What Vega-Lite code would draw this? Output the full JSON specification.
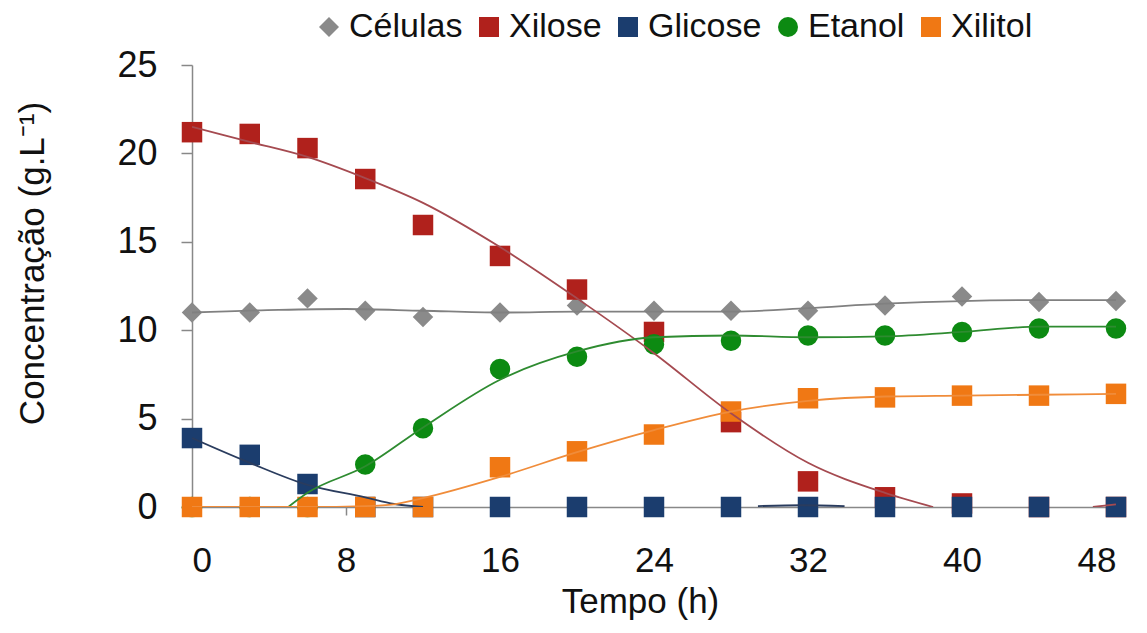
{
  "$schema": "https://vega.github.io/schema/vega-lite/v6.json",
  "width": 924,
  "height": 442,
  "autosize": {"type": "none"},
  "padding": {"left": 192, "top": 65, "right": 31, "bottom": 126},
  "background": "white",
  "datasets": {
    "pontos": [
      {"serie": "Células", "t": 0, "v": 11.0},
      {"serie": "Células", "t": 3, "v": 11.0},
      {"serie": "Células", "t": 6, "v": 11.8},
      {"serie": "Células", "t": 9, "v": 11.1},
      {"serie": "Células", "t": 12, "v": 10.75},
      {"serie": "Células", "t": 16, "v": 11.0},
      {"serie": "Células", "t": 20, "v": 11.4},
      {"serie": "Células", "t": 24, "v": 11.1},
      {"serie": "Células", "t": 28, "v": 11.1},
      {"serie": "Células", "t": 32, "v": 11.1},
      {"serie": "Células", "t": 36, "v": 11.4},
      {"serie": "Células", "t": 40, "v": 11.9},
      {"serie": "Células", "t": 44, "v": 11.6},
      {"serie": "Células", "t": 48, "v": 11.65},
      {"serie": "Xilose", "t": 0, "v": 21.2},
      {"serie": "Xilose", "t": 3, "v": 21.1},
      {"serie": "Xilose", "t": 6, "v": 20.3},
      {"serie": "Xilose", "t": 9, "v": 18.55},
      {"serie": "Xilose", "t": 12, "v": 15.95},
      {"serie": "Xilose", "t": 16, "v": 14.2},
      {"serie": "Xilose", "t": 20, "v": 12.3},
      {"serie": "Xilose", "t": 24, "v": 9.9},
      {"serie": "Xilose", "t": 28, "v": 4.8},
      {"serie": "Xilose", "t": 32, "v": 1.45},
      {"serie": "Xilose", "t": 36, "v": 0.55},
      {"serie": "Xilose", "t": 40, "v": 0.2},
      {"serie": "Xilose", "t": 44, "v": 0},
      {"serie": "Xilose", "t": 48, "v": 0},
      {"serie": "Glicose", "t": 0, "v": 3.9},
      {"serie": "Glicose", "t": 3, "v": 2.95},
      {"serie": "Glicose", "t": 6, "v": 1.3},
      {"serie": "Glicose", "t": 9, "v": 0},
      {"serie": "Glicose", "t": 12, "v": 0},
      {"serie": "Glicose", "t": 16, "v": 0},
      {"serie": "Glicose", "t": 20, "v": 0},
      {"serie": "Glicose", "t": 24, "v": 0},
      {"serie": "Glicose", "t": 28, "v": 0},
      {"serie": "Glicose", "t": 32, "v": 0},
      {"serie": "Glicose", "t": 36, "v": 0},
      {"serie": "Glicose", "t": 40, "v": 0},
      {"serie": "Glicose", "t": 44, "v": 0},
      {"serie": "Glicose", "t": 48, "v": 0},
      {"serie": "Etanol", "t": 0, "v": 0},
      {"serie": "Etanol", "t": 3, "v": 0},
      {"serie": "Etanol", "t": 6, "v": 0},
      {"serie": "Etanol", "t": 9, "v": 2.4},
      {"serie": "Etanol", "t": 12, "v": 4.45},
      {"serie": "Etanol", "t": 16, "v": 7.8},
      {"serie": "Etanol", "t": 20, "v": 8.5},
      {"serie": "Etanol", "t": 24, "v": 9.2},
      {"serie": "Etanol", "t": 28, "v": 9.4},
      {"serie": "Etanol", "t": 32, "v": 9.7},
      {"serie": "Etanol", "t": 36, "v": 9.7},
      {"serie": "Etanol", "t": 40, "v": 9.9},
      {"serie": "Etanol", "t": 44, "v": 10.1},
      {"serie": "Etanol", "t": 48, "v": 10.1},
      {"serie": "Xilitol", "t": 0, "v": 0},
      {"serie": "Xilitol", "t": 3, "v": 0},
      {"serie": "Xilitol", "t": 6, "v": 0},
      {"serie": "Xilitol", "t": 9, "v": 0},
      {"serie": "Xilitol", "t": 12, "v": 0},
      {"serie": "Xilitol", "t": 16, "v": 2.25},
      {"serie": "Xilitol", "t": 20, "v": 3.15},
      {"serie": "Xilitol", "t": 24, "v": 4.1},
      {"serie": "Xilitol", "t": 28, "v": 5.4},
      {"serie": "Xilitol", "t": 32, "v": 6.15},
      {"serie": "Xilitol", "t": 36, "v": 6.2},
      {"serie": "Xilitol", "t": 40, "v": 6.3},
      {"serie": "Xilitol", "t": 44, "v": 6.3},
      {"serie": "Xilitol", "t": 48, "v": 6.4}
    ],
    "curvas": [
      {"serie": "Células", "seg": "c1", "t": 0, "v": 11.0},
      {"serie": "Células", "seg": "c1", "t": 4.5, "v": 11.15},
      {"serie": "Células", "seg": "c1", "t": 8, "v": 11.2},
      {"serie": "Células", "seg": "c1", "t": 12, "v": 11.1},
      {"serie": "Células", "seg": "c1", "t": 16, "v": 11.0},
      {"serie": "Células", "seg": "c1", "t": 20, "v": 11.05},
      {"serie": "Células", "seg": "c1", "t": 24, "v": 11.05},
      {"serie": "Células", "seg": "c1", "t": 28, "v": 11.05},
      {"serie": "Células", "seg": "c1", "t": 32, "v": 11.25},
      {"serie": "Células", "seg": "c1", "t": 36, "v": 11.5},
      {"serie": "Células", "seg": "c1", "t": 40, "v": 11.65},
      {"serie": "Células", "seg": "c1", "t": 44, "v": 11.7},
      {"serie": "Células", "seg": "c1", "t": 48, "v": 11.7},
      {"serie": "Xilose", "seg": "x1", "t": 0, "v": 21.5},
      {"serie": "Xilose", "seg": "x1", "t": 3, "v": 20.65},
      {"serie": "Xilose", "seg": "x1", "t": 6, "v": 19.8},
      {"serie": "Xilose", "seg": "x1", "t": 9, "v": 18.6},
      {"serie": "Xilose", "seg": "x1", "t": 12, "v": 17.2},
      {"serie": "Xilose", "seg": "x1", "t": 16, "v": 14.7},
      {"serie": "Xilose", "seg": "x1", "t": 20, "v": 11.8},
      {"serie": "Xilose", "seg": "x1", "t": 24, "v": 8.7},
      {"serie": "Xilose", "seg": "x1", "t": 28, "v": 5.3},
      {"serie": "Xilose", "seg": "x1", "t": 32, "v": 2.5},
      {"serie": "Xilose", "seg": "x1", "t": 36, "v": 0.8},
      {"serie": "Xilose", "seg": "x1", "t": 38.5, "v": 0},
      {"serie": "Xilose", "seg": "x2", "t": 46.8, "v": 0},
      {"serie": "Xilose", "seg": "x2", "t": 48, "v": 0.15},
      {"serie": "Glicose", "seg": "g1", "t": 0, "v": 3.9},
      {"serie": "Glicose", "seg": "g1", "t": 3, "v": 2.5},
      {"serie": "Glicose", "seg": "g1", "t": 6, "v": 1.25},
      {"serie": "Glicose", "seg": "g1", "t": 9, "v": 0.55},
      {"serie": "Glicose", "seg": "g1", "t": 10.5, "v": 0.17},
      {"serie": "Glicose", "seg": "g1", "t": 12, "v": 0},
      {"serie": "Glicose", "seg": "g2", "t": 29.4, "v": 0.05},
      {"serie": "Glicose", "seg": "g2", "t": 31.7, "v": 0.1},
      {"serie": "Glicose", "seg": "g2", "t": 33.9, "v": 0.05},
      {"serie": "Etanol", "seg": "e1", "t": 5, "v": 0},
      {"serie": "Etanol", "seg": "e1", "t": 6, "v": 0.8},
      {"serie": "Etanol", "seg": "e1", "t": 9, "v": 2.3},
      {"serie": "Etanol", "seg": "e1", "t": 12, "v": 4.5},
      {"serie": "Etanol", "seg": "e1", "t": 16, "v": 7.2},
      {"serie": "Etanol", "seg": "e1", "t": 20, "v": 8.8},
      {"serie": "Etanol", "seg": "e1", "t": 24, "v": 9.6},
      {"serie": "Etanol", "seg": "e1", "t": 28, "v": 9.7},
      {"serie": "Etanol", "seg": "e1", "t": 32, "v": 9.6},
      {"serie": "Etanol", "seg": "e1", "t": 36, "v": 9.65},
      {"serie": "Etanol", "seg": "e1", "t": 40, "v": 9.9},
      {"serie": "Etanol", "seg": "e1", "t": 44, "v": 10.2},
      {"serie": "Etanol", "seg": "e1", "t": 48, "v": 10.2},
      {"serie": "Xilitol", "seg": "l1", "t": 0, "v": 0},
      {"serie": "Xilitol", "seg": "l1", "t": 3, "v": 0},
      {"serie": "Xilitol", "seg": "l1", "t": 6, "v": 0},
      {"serie": "Xilitol", "seg": "l1", "t": 9, "v": 0.05},
      {"serie": "Xilitol", "seg": "l1", "t": 10.5, "v": 0.15},
      {"serie": "Xilitol", "seg": "l1", "t": 12, "v": 0.5},
      {"serie": "Xilitol", "seg": "l1", "t": 16, "v": 1.7},
      {"serie": "Xilitol", "seg": "l1", "t": 20, "v": 3.1},
      {"serie": "Xilitol", "seg": "l1", "t": 24, "v": 4.35},
      {"serie": "Xilitol", "seg": "l1", "t": 28, "v": 5.4},
      {"serie": "Xilitol", "seg": "l1", "t": 32, "v": 6.0},
      {"serie": "Xilitol", "seg": "l1", "t": 36, "v": 6.25},
      {"serie": "Xilitol", "seg": "l1", "t": 40, "v": 6.3},
      {"serie": "Xilitol", "seg": "l1", "t": 44, "v": 6.35},
      {"serie": "Xilitol", "seg": "l1", "t": 48, "v": 6.4}
    ]
  },
  "layer": [
    {
      "data": {"name": "pontos"},
      "mark": {"type": "point", "filled": true, "opacity": 1, "size": 420, "strokeWidth": 0},
      "encoding": {
        "x": {"field": "t", "type": "quantitative", "scale": {"domain": [0, 48], "nice": false, "zero": false},
              "axis": {"title": "Tempo (h)", "values": [0, 8, 16, 24, 32, 40, 48]}},
        "y": {"field": "v", "type": "quantitative", "scale": {"domain": [0, 25], "nice": false},
              "axis": {"title": "Concentração (g.L⁻¹)", "values": [0, 5, 10, 15, 20, 25]}},
        "color": {"field": "serie", "type": "nominal",
                  "scale": {"domain": ["Células", "Xilose", "Glicose", "Etanol", "Xilitol"],
                            "range": ["#8A8A8A", "#B0211C", "#1B3D6E", "#0C8A12", "#F07814"]},
                  "legend": {"title": null, "orient": "none", "legendX": 120, "legendY": -55, "direction": "horizontal"}},
        "shape": {"field": "serie", "type": "nominal",
                  "scale": {"domain": ["Células", "Xilose", "Glicose", "Etanol", "Xilitol"],
                            "range": ["diamond", "square", "square", "circle", "square"]},
                  "legend": {"title": null, "orient": "none", "legendX": 120, "legendY": -55, "direction": "horizontal"}}
      }
    },
    {
      "data": {"name": "curvas"},
      "mark": {"type": "line", "interpolate": "monotone", "strokeWidth": 1.8, "clip": true},
      "encoding": {
        "x": {"field": "t", "type": "quantitative"},
        "y": {"field": "v", "type": "quantitative"},
        "detail": {"field": "seg", "type": "nominal"},
        "stroke": {"field": "serie", "type": "nominal", "legend": null,
                   "scale": {"domain": ["Células", "Xilose", "Glicose", "Etanol", "Xilitol"],
                             "range": ["#808080", "#A54A50", "#2A3C5E", "#2E8B30", "#F08C3A"]}}
      }
    }
  ],
  "config": {
    "view": {"stroke": null},
    "font": "Liberation Sans",
    "axis": {
      "grid": false,
      "domainColor": "#888888",
      "domainWidth": 1.5,
      "tickColor": "#888888",
      "tickWidth": 1.5,
      "labelFont": "Liberation Sans",
      "titleFont": "Liberation Sans",
      "labelColor": "#111111",
      "titleColor": "#111111",
      "titleFontWeight": "normal"
    },
    "axisX": {
      "tickSize": 8,
      "labelFontSize": 35,
      "labelPadding": 28,
      "titleFontSize": 35,
      "titlePadding": 6,
      "titleX": 448
    },
    "axisY": {
      "tickSize": 11,
      "labelFontSize": 36,
      "labelPadding": 24,
      "titleFontSize": 35,
      "titlePadding": 66,
      "titleY": 198
    },
    "legend": {
      "labelFontSize": 34,
      "labelFont": "Liberation Sans",
      "labelColor": "#111111",
      "symbolSize": 400,
      "symbolStrokeWidth": 0,
      "symbolOpacity": 1,
      "columnPadding": 9,
      "labelOffset": 3,
      "padding": 0
    }
  }
}
